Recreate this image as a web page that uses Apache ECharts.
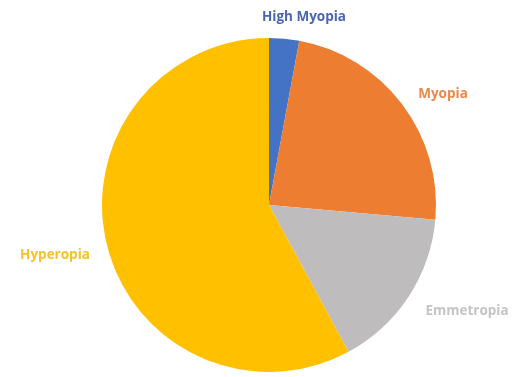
<!DOCTYPE html>
<html>
<head>
<meta charset="utf-8">
<script src="https://cdn.jsdelivr.net/npm/echarts@6/dist/echarts.min.js"></script>
<style>
  html, body { margin: 0; padding: 0; background: #ffffff; }
  #chart { width: 512px; height: 377px; }
</style>
</head>
<body>
<div id="chart"></div>
<script>
// Refraction categories and their shares (%)
const categories = ['High Myopia', 'Myopia', 'Emmetropia', 'Hyperopia'];
const shares = [2.9, 23.5, 15.7, 57.9];
const sliceColors = ['#4472C4', '#ED7D31', '#BEBCBC', '#FFC000'];
const labelColors = ['#4A66AE', '#E8884A', '#C4C4C4', '#F5C22A'];
// Where each category name sits beside the pie
const labelSpots = [[304, 17], [443, 94], [467, 311], [55, 255]];

const chart = echarts.init(document.getElementById('chart'), null, { renderer: 'canvas' });

chart.setOption({
  backgroundColor: '#ffffff',
  animation: false,
  series: [{
    type: 'pie',
    center: [269, 205],
    radius: 167,
    startAngle: 90,
    clockwise: true,
    data: categories.map((name, i) => ({
      name: name,
      value: shares[i],
      itemStyle: { color: sliceColors[i] },
      label: { color: labelColors[i] }
    })),
    itemStyle: { borderWidth: 0 },
    label: {
      show: true,
      position: 'outside',
      formatter: '{b}',
      fontFamily: 'Open Sans',
      fontWeight: 'bold',
      fontSize: 13.5,
      overflow: 'none',
      width: 200
    },
    labelLine: { show: false },
    labelLayout: function (params) {
      const spot = labelSpots[params.dataIndex];
      return { x: spot[0], y: spot[1], align: 'center', verticalAlign: 'middle', hideOverlap: false };
    },
    emphasis: { disabled: true }
  }]
});
</script>
</body>
</html>
